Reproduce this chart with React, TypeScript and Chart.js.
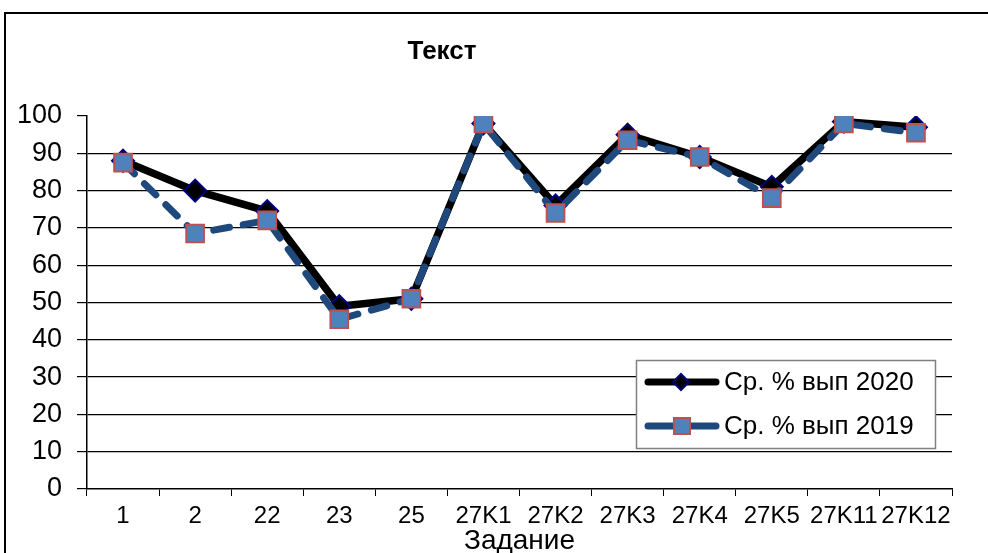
import React, { useEffect, useRef } from "react";
import { Chart, registerables } from "chart.js";

Chart.register(...registerables);

const TITLE = "Текст";
const X_TITLE = "Задание";
const categories = ["1", "2", "22", "23", "25", "27K1", "27K2", "27K3", "27K4", "27K5", "27K11", "27K12"];
const label2020 = "Ср. % вып 2020";
const label2019 = "Ср. % вып 2019";
const values2020 = [88, 80, 74.5, 49, 51, 98, 76, 95, 89, 81, 98.5, 97];
const values2019 = [87.5, 68.5, 72, 45.5, 51, 98, 74, 93.5, 89, 78, 98, 95.5];
const yTicks = [0, 10, 20, 30, 40, 50, 60, 70, 80, 90, 100];

const FONT = '"Liberation Sans", Arial, sans-serif';
const C2019_LINE = "#1F497D";
const C2019_FILL = "#4F81BD";
const C2019_BORDER = "#C0504D";

const framePlugin = {
  id: "frame",
  beforeDraw(chart: any) {
    const ctx = chart.ctx;
    ctx.save();
    ctx.fillStyle = "#fff";
    ctx.fillRect(0, 0, chart.width, chart.height);
    ctx.strokeStyle = "#000";
    ctx.lineWidth = 2;
    ctx.strokeRect(5, 13, chart.width + 20, chart.height + 20);
    ctx.font = `bold 26px ${FONT}`;
    ctx.textAlign = "center";
    ctx.textBaseline = "middle";
    ctx.fillStyle = "#000";
    ctx.fillText(TITLE, 442, 52);
    ctx.restore();
  },
  afterDraw(chart: any) {
    const ctx = chart.ctx;
    ctx.save();
    ctx.fillStyle = "#fff";
    ctx.strokeStyle = "#808080";
    ctx.lineWidth = 1.5;
    ctx.fillRect(636, 360, 299, 88);
    ctx.strokeRect(636.5, 360.5, 299, 88);
    // row 1
    const y1 = 382;
    ctx.lineCap = "round";
    ctx.lineWidth = 7;
    ctx.strokeStyle = "#000";
    ctx.beginPath();
    ctx.moveTo(648, y1);
    ctx.lineTo(716, y1);
    ctx.stroke();
    ctx.beginPath();
    ctx.moveTo(681, y1 - 8);
    ctx.lineTo(689, y1);
    ctx.lineTo(681, y1 + 8);
    ctx.lineTo(673, y1);
    ctx.closePath();
    ctx.fillStyle = "#000";
    ctx.fill();
    ctx.lineWidth = 2;
    ctx.strokeStyle = "#000080";
    ctx.stroke();
    // row 2
    const y2 = 426;
    ctx.lineWidth = 7;
    ctx.strokeStyle = C2019_LINE;
    ctx.beginPath();
    ctx.moveTo(648, y2);
    ctx.lineTo(716, y2);
    ctx.stroke();
    ctx.fillStyle = C2019_FILL;
    ctx.fillRect(674, y2 - 8, 16, 16);
    ctx.lineWidth = 2;
    ctx.strokeStyle = C2019_BORDER;
    ctx.strokeRect(674, y2 - 8, 16, 16);
    // text
    ctx.fillStyle = "#000";
    ctx.font = `26px ${FONT}`;
    ctx.textAlign = "left";
    ctx.textBaseline = "middle";
    ctx.fillText(label2020, 724, y1 + 1);
    ctx.fillText(label2019, 724, y2 + 1);
    ctx.restore();
  },
};

export default function App() {
  const ref = useRef<HTMLCanvasElement>(null);
  useEffect(() => {
    if (!ref.current) return;
    const chart = new Chart(ref.current, {
      type: "line",
      data: {
        labels: categories,
        datasets: [
          {
            label: label2020,
            data: values2020,
            order: 1,
            borderColor: "#000",
            borderWidth: 7.5,
            pointStyle: "rectRot",
            pointRadius: 11,
            pointBackgroundColor: "#000",
            pointBorderColor: "#000080",
            pointBorderWidth: 2,
            tension: 0,
          },
          {
            label: label2019,
            data: values2019,
            order: 0,
            borderColor: C2019_LINE,
            borderWidth: 7,
            borderDash: [16, 14],
            borderCapStyle: "round",
            pointStyle: "rect",
            pointRadius: 12.5,
            pointBackgroundColor: C2019_FILL,
            pointBorderColor: C2019_BORDER,
            pointBorderWidth: 2,
            tension: 0,
          },
        ],
      },
      options: {
        animation: false,
        responsive: false,
        maintainAspectRatio: false,
        layout: { padding: { left: 0, right: 36, top: 116, bottom: 0 } },
        plugins: {
          legend: { display: false },
          title: { display: false },
          tooltip: { enabled: false },
        },
        scales: {
          x: {
            type: "category",
            offset: true,
            grid: {
              offset: true,
              drawOnChartArea: false,
              drawTicks: true,
              tickLength: 7,
              tickColor: "#000",
              tickWidth: 1,
            },
            border: { display: true, color: "#000", width: 1.5 },
            ticks: {
              color: "#000",
              font: { family: FONT, size: 24 },
              padding: 6,
              maxRotation: 0,
              autoSkip: false,
            },
            title: {
              display: true,
              text: X_TITLE,
              color: "#000",
              font: { family: FONT, size: 28, lineHeight: 1 },
              padding: { top: 0, bottom: -2 },
            },
            afterFit: (s: any) => {
              s.height = 64;
            },
          },
          y: {
            min: 0,
            max: 100,
            afterBuildTicks: (s: any) => {
              s.ticks = yTicks.map((v) => ({ value: v }));
            },
            grid: {
              color: (c: any) => (c.tick && (c.tick.value === 0 || c.tick.value === 100) ? "rgba(0,0,0,0)" : "#000"),
              lineWidth: 1.2,
              tickLength: 10,
              tickColor: "#000",
              drawTicks: true,
            },
            border: { display: true, color: "#000", width: 1.5 },
            ticks: {
              color: "#000",
              font: { family: FONT, size: 27 },
              padding: 15,
            },
            afterFit: (s: any) => {
              s.width = 87;
            },
          },
        },
      },
      plugins: [framePlugin],
    });
    return () => chart.destroy();
  }, []);
  return (
    <div style={{ position: "absolute", left: 0, top: 0, width: 988, height: 553, background: "#fff" }}>
      <canvas ref={ref} width={988} height={553} style={{ display: "block", width: 988, height: 553 }} />
    </div>
  );
}
